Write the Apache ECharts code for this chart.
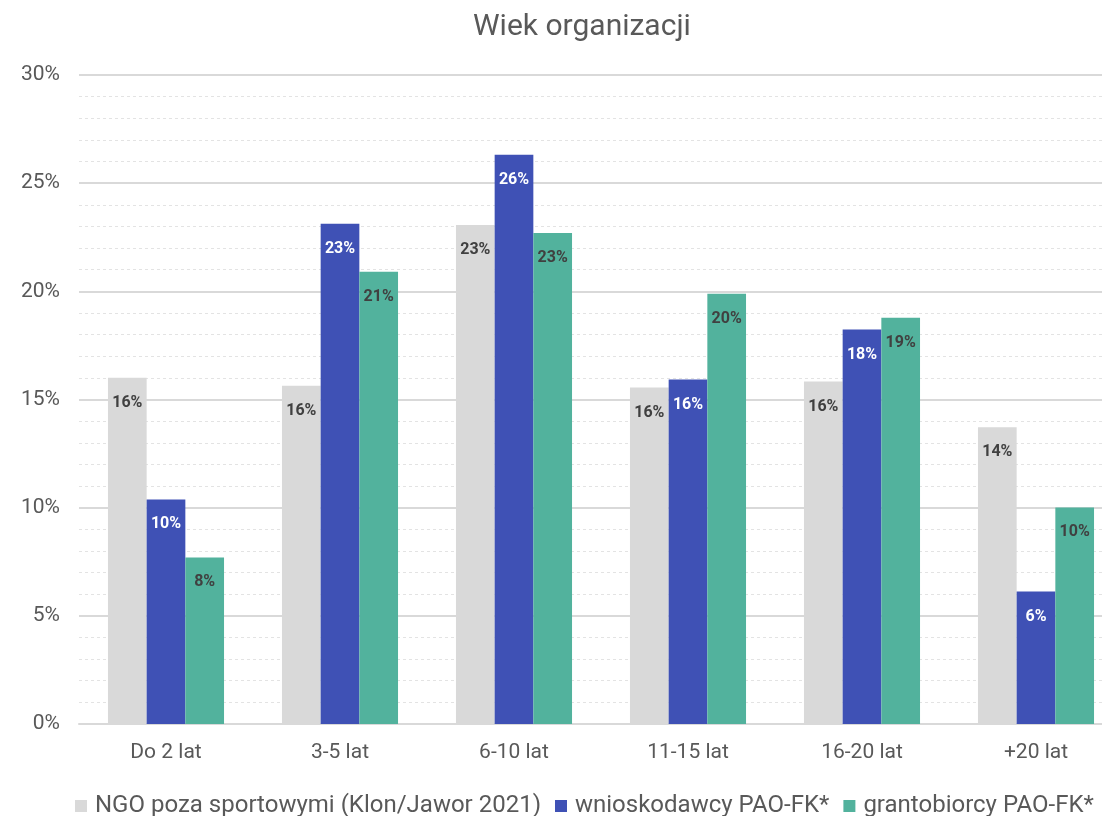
<!DOCTYPE html>
<html>
<head>
<meta charset="utf-8">
<script src="https://cdn.jsdelivr.net/npm/echarts@6/dist/echarts.min.js"></script>
<style>
html,body{margin:0;padding:0;background:#fff;overflow:hidden;}
#chart{width:1123px;height:816px;}
</style>
</head>
<body>
<div id="chart"></div>
<script>
const categories = ['Do 2 lat', '3-5 lat', '6-10 lat', '11-15 lat', '16-20 lat', '+20 lat'];
const seriesNames = ['NGO poza sportowymi (Klon/Jawor 2021)', 'wnioskodawcy PAO-FK*', 'grantobiorcy PAO-FK*'];
const ngoValues = [16.0, 15.64, 23.07, 15.55, 15.83, 13.72];
const wnioskodawcyValues = [10.38, 23.12, 26.31, 15.92, 18.23, 6.12];
const grantobiorcyValues = [7.70, 20.9, 22.70, 19.89, 18.78, 10.01];
const yTicks = [0, 5, 10, 15, 20, 25, 30];

const colors = ['#d9d9d9', '#3f51b5', '#52b29d'];
const labelColors = ['#404040', '#ffffff', '#404040'];
const font = 'Roboto';

const chart = echarts.init(document.getElementById('chart'));
const allValues = [ngoValues, wnioskodawcyValues, grantobiorcyValues];

chart.setOption({
  animation: false,
  title: {
    text: 'Wiek organizacji',
    left: 468,
    top: 7,
    textStyle: { fontFamily: font, fontSize: 30, fontWeight: 'normal', color: '#595959' }
  },
  legend: {
    data: seriesNames,
    left: 70,
    top: 789,
    icon: 'rect',
    itemWidth: 12,
    itemHeight: 12,
    itemGap: 14,
    textStyle: { fontFamily: font, fontSize: 24, color: '#595959', padding: [0, 0, 0, 3] }
  },
  grid: { left: 79, right: 0, top: 75, bottom: 92 },
  xAxis: {
    type: 'category',
    data: categories,
    axisLine: { lineStyle: { color: '#d9d9d9', width: 2 } },
    axisTick: { show: false },
    axisLabel: { fontFamily: font, fontSize: 21, color: '#595959', margin: 18 }
  },
  yAxis: {
    type: 'value',
    min: yTicks[0],
    max: yTicks[yTicks.length - 1],
    interval: 5,
    axisLine: { show: false },
    axisTick: { show: false },
    axisLabel: { fontFamily: font, fontSize: 21, color: '#595959', margin: 19, formatter: v => v + '%' },
    splitLine: { lineStyle: { color: '#d9d9d9', width: 2 } },
    minorTick: { show: false, splitNumber: 5 },
    minorSplitLine: { show: true, lineStyle: { color: '#e3e3e3', type: [3, 3], width: 1 } }
  },
  series: seriesNames.map((name, i) => ({
    name: name,
    type: 'bar',
    data: allValues[i],
    itemStyle: { color: colors[i] },
    barGap: '0%',
    barCategoryGap: '33.3%',
    label: {
      show: true,
      position: 'insideTop',
      distance: 17,
      fontFamily: font,
      fontSize: 16,
      fontWeight: 'bold',
      color: labelColors[i],
      formatter: p => Math.round(p.value) + '%'
    }
  }))
});
</script>
</body>
</html>
